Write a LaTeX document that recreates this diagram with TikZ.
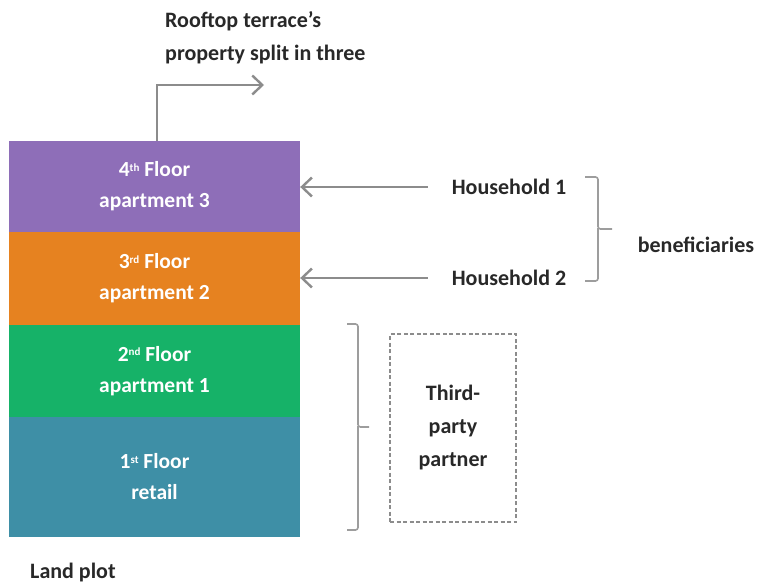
\documentclass[tikz,border=0pt]{standalone}
\usepackage{fontspec}
\setmainfont{Carlito}
\usetikzlibrary{arrows.meta}
\definecolor{cpurple}{RGB}{142,110,184}
\definecolor{corange}{RGB}{230,130,32}
\definecolor{cgreen}{RGB}{22,178,104}
\definecolor{cblue}{RGB}{62,143,166}
\definecolor{ctext}{RGB}{40,40,40}
\definecolor{cline}{RGB}{140,140,140}
\newcommand{\supx}[1]{\raisebox{0.55ex}{\fontsize{11}{11}\selectfont #1}}
\begin{document}
\begin{tikzpicture}[x=1pt,y=-1pt,
  floorbox/.style={inner sep=0pt, minimum width=291pt, align=center,
    text=white, font=\fontsize{21.5}{31}\selectfont\bfseries},
  lbl/.style={inner sep=0pt, text=ctext, font=\fontsize{22}{33}\selectfont\bfseries},
  garrow/.style={draw=cline, line width=2.6pt, -{Straight Barb[length=10pt,width=19pt,line width=2.4pt]}},
  bracestyle/.style={draw=cline!85, line width=1.6pt, rounded corners=2.5pt},
  dashbox/.style={draw=cline, line width=1.3pt, dash pattern=on 4pt off 2.5pt,
    minimum width=126pt, minimum height=188pt, inner sep=0pt, align=center}]
\useasboundingbox (0,0) rectangle (761,586);
% floors
\node[floorbox, fill=cpurple, minimum height=91pt] (f4) at (154.5,186.5) {4\supx{th} Floor\\apartment 3};
\node[floorbox, fill=corange, minimum height=93pt] (f3) at (154.5,278.5) {3\supx{rd} Floor\\apartment 2};
\node[floorbox, fill=cgreen, minimum height=92pt] (f2) at (154.5,371) {2\supx{nd} Floor\\apartment 1};
\node[floorbox, fill=cblue, minimum height=120pt] (f1) at (154.5,477) {1\supx{st} Floor\\retail};
% rooftop
\node[lbl, anchor=west, align=left] (roof) at (165,38) {Rooftop terrace’s\\property split in three};
\coordinate (roofend) at (264,85);
\draw[garrow] ([xshift=2.5pt]f4.north) |- (roofend);
% households
\node[lbl] (h1) at (509,187) {Household 1};
\node[lbl] (h2) at (509,278) {Household 2};
\draw[garrow, shorten <=24pt] (h1.west) -- (f4.east |- h1.west);
\draw[garrow, shorten <=24pt] (h2.west) -- (f3.east |- h2.west);
% beneficiaries brace
\draw[bracestyle] (585,177) -- (598,177) -- (598,229) -- (612,229);
\draw[bracestyle] (598,228) -- (598,281) -- (585,281);
\node[lbl] (ben) at (696,245) {beneficiaries};
% third-party brace
\draw[bracestyle] (347,324) -- (358,324) -- (358,427) -- (369,427);
\draw[bracestyle] (358,426) -- (358,530) -- (347,530);
\node[lbl, dashbox] (tp) at (453,428) {Third-\\party\\partner};
% land plot
\node[lbl, anchor=west] (land) at (30,573) {Land plot};
\end{tikzpicture}
\end{document}
